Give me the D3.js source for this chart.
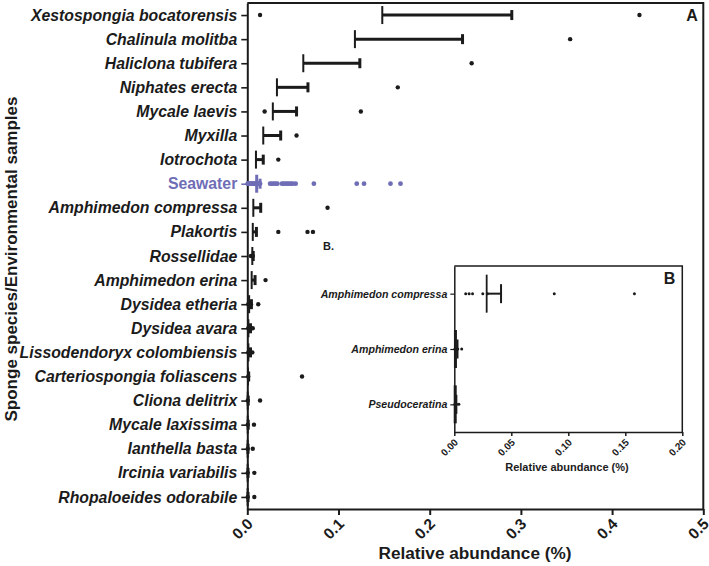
<!DOCTYPE html>
<html><head><meta charset="utf-8">
<script src="https://cdn.jsdelivr.net/npm/d3@7"></script>
<style>
html,body{margin:0;padding:0;background:#fff;}
svg{display:block;font-family:"Liberation Sans",Arial,sans-serif;}
</style></head>
<body><svg id="c" width="709" height="566"></svg>
<script>
// ---- Data (panel A) ----
const rows = ["Xestospongia bocatorensis","Chalinula molitba","Haliclona tubifera","Niphates erecta","Mycale laevis","Myxilla","Iotrochota","Seawater","Amphimedon compressa","Plakortis","Rossellidae","Amphimedon erina","Dysidea etheria","Dysidea avara","Lissodendoryx colombiensis","Carteriospongia foliascens","Cliona delitrix","Mycale laxissima","Ianthella basta","Ircinia variabilis","Rhopaloeides odorabile"];
const means = [0.148,0.118,0.0614,0.0325,0.028,0.0175,0.0095,0.0103,0.0066,0.006,0.0055,0.0048,0.002,0.0012,0.0012,0.0008,0.0005,0.0005,0.0004,0.0004,0.0004];
const upper = [0.290,0.236,0.1234,0.0665,0.054,0.0366,0.0175,0.014,0.0147,0.010,0.0065,0.0085,0.0045,0.0035,0.0035,0.0015,0.001,0.001,0.0008,0.0008,0.0008];
const seawaterPoints = [0.0005,0.001,0.0015,0.002,0.003,0.004,0.005,0.006,0.007,0.008,0.009,0.010,0.011,0.012,0.013,0.014,0.025,0.027,0.029,0.031,0.033,0.038,0.040,0.042,0.044,0.046,0.048,0.050,0.053,0.073,0.120,0.128,0.157,0.168];
const points = [[0.014,0.430],[0.354],[0.246],[0.165],[0.019,0.1245],[0.054],[0.034],seawaterPoints,[0.088],[0.034,0.066,0.072],[0.004,0.006],[0.020],[0.001,0.002,0.003,0.004,0.012],[0.001,0.002,0.003,0.006],[0.001,0.002,0.003,0.0055],[0.001,0.060],[0.0005,0.014],[0.0005,0.0073],[0.0005,0.006],[0.0005,0.0077],[0.0005,0.0077]];
const xTicks = [0,0.1,0.2,0.3,0.4,0.5];

// ---- Data (panel B inset) ----
const rowsB = ["Amphimedon compressa","Amphimedon erina","Pseudoceratina"];
const meansB = [0.0284,0.001,0.0008];
const upperB = [0.041,0.0028,0.0018];
const pointsB = [[0.010,0.013,0.016,0.025,0.029,0.0877,0.158],[0.0005,0.001,0.002,0.003,0.0065],[0.0005,0.001,0.002,0.004]];
const xTicksB = [0,0.05,0.10,0.15,0.20];

const ink = "#1b1b1b", purple = "#6f6db6";
const svg = d3.select("#c");
svg.append("rect").attr("width",709).attr("height",566).attr("fill","#fff");

// ---- Panel A ----
const x = d3.scaleLinear().domain([0,0.5]).range([247.3,703.3]);
const y = d3.scalePoint().domain(rows).range([3,509]).padding(0.5);

const gx = svg.append("g").attr("transform","translate(0,509)")
  .call(d3.axisBottom(x).tickValues(xTicks).tickFormat(d3.format(".1f")).tickSize(6).tickSizeOuter(0));
gx.select(".domain").attr("stroke",ink).attr("stroke-width",2);
gx.selectAll(".tick line").attr("stroke",ink).attr("stroke-width",2);
gx.selectAll(".tick text").attr("fill",ink).attr("font-size",15.5).attr("font-weight","bold")
  .attr("text-anchor","end").attr("dy",null).attr("y",null)
  .attr("transform","translate(6,16) rotate(-45)");

const gy = svg.append("g").attr("transform","translate(247.3,0)")
  .call(d3.axisLeft(y).tickSize(6).tickPadding(4).tickSizeOuter(0));
gy.select(".domain").attr("stroke",ink).attr("stroke-width",2);
gy.selectAll(".tick line").attr("stroke",d=>d==="Seawater"?purple:ink).attr("stroke-width",1.6);
gy.selectAll(".tick text").attr("fill",d=>d==="Seawater"?purple:ink).attr("font-size",15.8)
  .attr("font-weight","bold").attr("font-style",d=>d==="Seawater"?"normal":"italic");

// frame top and right
svg.append("path").attr("d",`M${x(0)},3H${x(0.5)}V509`).attr("fill","none").attr("stroke",ink).attr("stroke-width",2);

// marks
rows.forEach((r,i)=>{
  const col = r==="Seawater"?purple:ink;
  const g = svg.append("g");
  const cy = y(r);
  g.selectAll("circle").data(points[i]).join("circle")
    .attr("cx",d=>x(d)).attr("cy",cy).attr("r",r==="Seawater"?2.4:2.2).attr("fill",col);
  g.append("line").attr("x1",x(means[i])).attr("x2",x(upper[i])).attr("y1",cy).attr("y2",cy)
    .attr("stroke",col).attr("stroke-width",r==="Seawater"?4:3);
  g.append("line").attr("x1",x(means[i])).attr("x2",x(means[i])).attr("y1",cy-9).attr("y2",cy+9)
    .attr("stroke",col).attr("stroke-width",r==="Seawater"?3:2);
  g.append("line").attr("x1",x(upper[i])).attr("x2",x(upper[i])).attr("y1",cy-5).attr("y2",cy+5)
    .attr("stroke",col).attr("stroke-width",3);
});

// axis titles
svg.append("text").attr("x",475).attr("y",559).attr("text-anchor","middle")
  .attr("font-size",17.2).attr("font-weight","bold").attr("fill",ink).text("Relative abundance (%)");
svg.append("text").attr("transform","translate(17,259) rotate(-90)").attr("text-anchor","middle")
  .attr("font-size",17).attr("font-weight","bold").attr("fill",ink).text("Sponge species/Environmental samples");

svg.append("text").attr("x",692).attr("y",21).attr("text-anchor","middle")
  .attr("font-size",16).attr("font-weight","bold").attr("fill",ink).text("A");
svg.append("text").attr("x",323).attr("y",250)
  .attr("font-size",11).attr("font-weight","bold").attr("fill",ink).text("B.");

// ---- Panel B inset ----
const xb = d3.scaleLinear().domain([0,0.2]).range([454.3,682.3]);
const yb = d3.scalePoint().domain(rowsB).range([266,432]).padding(0.5);

const gbx = svg.append("g").attr("transform","translate(0,432)")
  .call(d3.axisBottom(xb).tickValues(xTicksB).tickFormat(d3.format(".2f")).tickSize(4).tickSizeOuter(0));
gbx.select(".domain").attr("stroke",ink).attr("stroke-width",1.5);
gbx.selectAll(".tick line").attr("stroke",ink).attr("stroke-width",1.5);
gbx.selectAll(".tick text").attr("fill",ink).attr("font-size",10).attr("font-weight","bold")
  .attr("text-anchor","end").attr("dy",null).attr("y",null)
  .attr("transform","translate(4,11) rotate(-45)");

const gby = svg.append("g").attr("transform","translate(454.3,0)")
  .call(d3.axisLeft(yb).tickSize(4).tickPadding(3).tickSizeOuter(0));
gby.select(".domain").attr("stroke",ink).attr("stroke-width",1.5);
gby.selectAll(".tick line").attr("stroke",ink).attr("stroke-width",1.2);
gby.selectAll(".tick text").attr("fill",ink).attr("font-size",10.6)
  .attr("font-weight","bold").attr("font-style","italic");

svg.append("path").attr("d",`M${xb(0)},266H${xb(0.2)}V432`).attr("fill","none").attr("stroke",ink).attr("stroke-width",1.5);

rowsB.forEach((r,i)=>{
  const g = svg.append("g");
  const cy = yb(r);
  g.selectAll("circle").data(pointsB[i]).join("circle")
    .attr("cx",d=>xb(d)).attr("cy",cy).attr("r",1.5).attr("fill",ink);
  g.append("line").attr("x1",xb(meansB[i])).attr("x2",xb(upperB[i])).attr("y1",cy).attr("y2",cy)
    .attr("stroke",ink).attr("stroke-width",2);
  g.append("line").attr("x1",xb(meansB[i])).attr("x2",xb(meansB[i])).attr("y1",cy-19).attr("y2",cy+19)
    .attr("stroke",ink).attr("stroke-width",i===0?1.8:3);
  g.append("line").attr("x1",xb(upperB[i])).attr("x2",xb(upperB[i])).attr("y1",cy-9.5).attr("y2",cy+9.5)
    .attr("stroke",ink).attr("stroke-width",2);
});

svg.append("text").attr("x",567).attr("y",471).attr("text-anchor","middle")
  .attr("font-size",11).attr("font-weight","bold").attr("fill",ink).text("Relative abundance (%)");
svg.append("text").attr("x",669.5).attr("y",284).attr("text-anchor","middle")
  .attr("font-size",16).attr("font-weight","bold").attr("fill",ink).text("B");
</script></body></html>
